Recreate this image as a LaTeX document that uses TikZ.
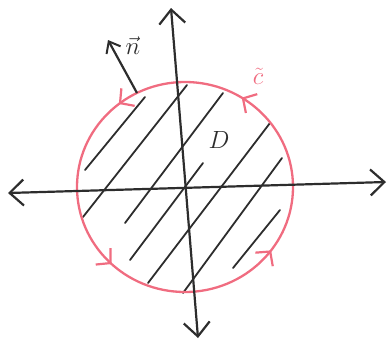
\documentclass[tikz,border=0pt]{standalone}
\usetikzlibrary{arrows.meta,decorations.markings}
\definecolor{curvepink}{RGB}{240,108,128}
\definecolor{inkgray}{RGB}{45,45,45}
\tikzset{
  axisline/.style={draw=inkgray,line width=2.2pt,{Straight Barb[length=14pt,width=26pt,line width=2.2pt]}-{Straight Barb[length=14pt,width=26pt,line width=2.2pt]}},
  hatchline/.style={draw=inkgray,line width=1.8pt,line cap=round},
  boundary/.style={draw=curvepink,line width=2.3pt},
  flowmark/.style={decoration={markings,
     mark=at position 0.161 with {\arrow{Straight Barb[length=10pt,width=22pt,line width=2.2pt]}},
     mark=at position 0.356 with {\arrow{Straight Barb[length=10pt,width=22pt,line width=2.2pt]}},
     mark=at position 0.63 with {\arrow{Straight Barb[length=10pt,width=22pt,line width=2.2pt]}},
     mark=at position 0.898 with {\arrow{Straight Barb[length=10pt,width=22pt,line width=2.2pt]}}},
     postaction={decorate}},
  normalvec/.style={draw=inkgray,line width=2.2pt,-{Straight Barb[length=10pt,width=16pt,line width=2pt]}},
  biglabel/.style={inner sep=0pt,font=\fontsize{28}{30}\selectfont},
}
\begin{document}
\begin{tikzpicture}[x=1pt,y=-1pt]
\useasboundingbox (0,0) rectangle (391,349);
\coordinate (ctr) at (185,187);
% hatching
\foreach \a/\b [count=\i] in {{85,170}/{145,97},{83,217}/{187,85},{125,223}/{223,93},{130,260}/{203,163},{148,283}/{270,123},{183,293}/{282,158},{233,268}/{280,210}}{
  \coordinate (h\i a) at (\a);
  \coordinate (h\i b) at (\b);
  \draw[hatchline] (h\i a) -- (h\i b);
}
% boundary curve, counterclockwise on the page
\draw[boundary,flowmark] (ctr) ++(108,0) arc[start angle=0,end angle=-360,x radius=108,y radius=105];
% axes
\coordinate (xl) at (8,193);
\coordinate (xr) at (386,182);
\coordinate (yt) at (171,8);
\coordinate (yb) at (198,338);
\draw[axisline] (xl) -- (xr);
\draw[axisline] (yt) -- (yb);
% normal vector
\coordinate (nfoot) at (137,93);
\coordinate (ntip) at (108,40);
\draw[normalvec] (nfoot) -- (ntip);
\node[biglabel,text=inkgray] (nlab) at (133,46) {$\vec{n}$};
% labels
\node[biglabel,text=inkgray,font=\fontsize{32}{34}\selectfont] (dlab) at (219,140) {$D$};
\node[biglabel,text=curvepink] (clab) at (258,76) {$\tilde{c}$};
\end{tikzpicture}
\end{document}
